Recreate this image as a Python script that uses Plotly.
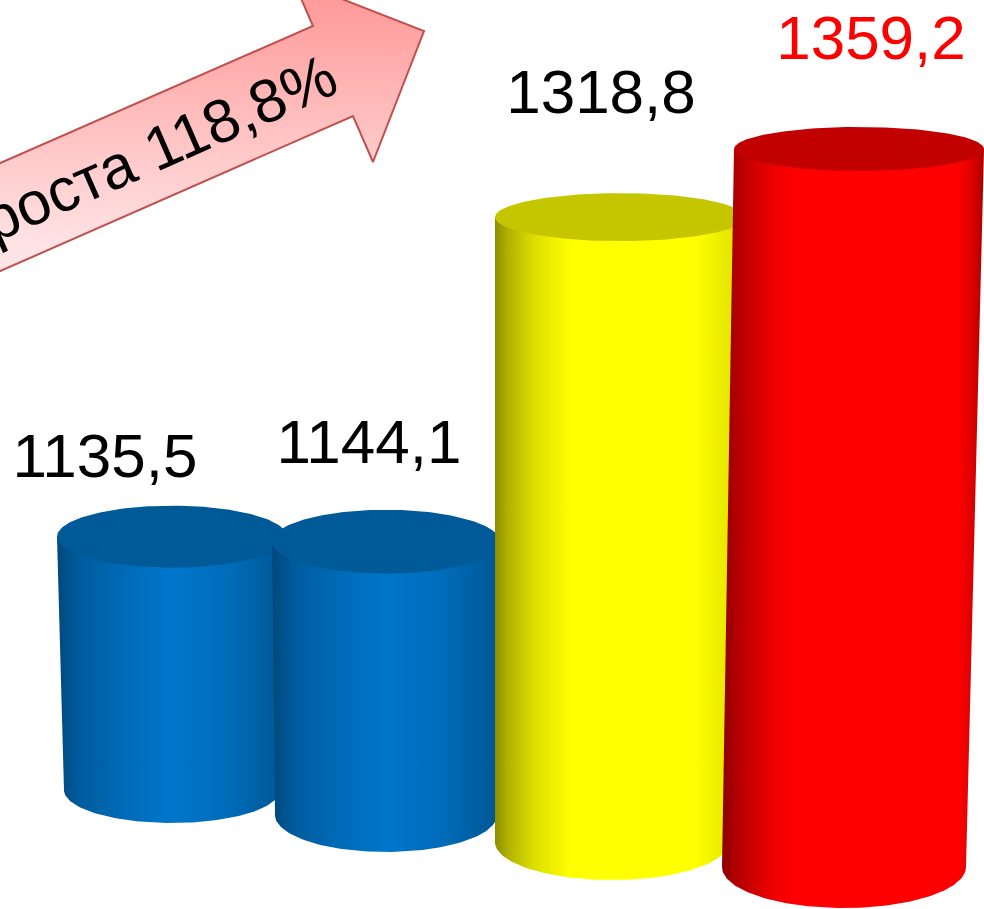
import numpy as np
import plotly.graph_objects as go

# --- chart data ---
values = [1135.5, 1144.1, 1318.8, 1359.2]
label_colors = ["#000000", "#000000", "#000000", "#ff0000"]
growth_label = "Темп роста 118,8%"

# --- picture geometry (camera-like placement of each cylinder, not data) ---
v_floor = 1014.0
height_scale = [2.085, 2.10, 2.05, 2.08]
base_cy = [790, 815, 842, 867]
base_cx = [172, 386, 612, 844]
base_a = [108, 111, 117, 122]
base_b = [33, 37, 38, 41]
top_cx = [172, 386, 620, 859]
top_a = [115, 114, 125, 125]
top_b = [31, 32, 24, 22]
label_x = [105, 369, 601, 871]
label_gap = [44, 62, 96, 83]

BLUE = [[0, "#00487c"], [.1, "#005c9e"], [.3, "#006bb8"], [.5, "#0076cc"], [.75, "#006cba"], [.95, "#005a9a"], [1, "#004f88"]]
YELLOW = [[0, "#8c8c00"], [.05, "#b0b000"], [.15, "#dcdc00"], [.3, "#ffff00"], [.8, "#ffff00"], [1, "#dcdc00"]]
RED = [[0, "#8a0000"], [.05, "#b00000"], [.2, "#f00000"], [.3, "#ff0000"], [.9, "#ff0000"], [.96, "#d80000"], [1, "#a80000"]]
wall_scales = [BLUE, BLUE, YELLOW, RED]
top_colors = ["#005a98", "#005a98", "#c6c600", "#c20000"]

fig = go.Figure()
phi_front = np.linspace(np.pi, 0, 90)
phi_all = np.linspace(0, 2 * np.pi, 181)

for i, v in enumerate(values):
    cy_top = base_cy[i] - height_scale[i] * (v - v_floor)
    # wall: chord across the top cap (the cap covers it), then front arc of the base
    xt = np.array([top_cx[i] - top_a[i], top_cx[i] + top_a[i]])
    yt = np.array([cy_top, cy_top])
    xb = base_cx[i] + base_a[i] * np.cos(phi_front[::-1])
    yb = base_cy[i] + base_b[i] * np.sin(phi_front[::-1])
    fig.add_trace(go.Scatter(
        x=np.r_[xt, xb, xt[0]], y=np.r_[yt, yb, yt[0]], mode="lines", fill="toself",
        line=dict(width=0), fillgradient=dict(type="horizontal", colorscale=wall_scales[i]),
        hoverinfo="skip", showlegend=False))
    # top cap
    fig.add_trace(go.Scatter(
        x=top_cx[i] + top_a[i] * np.cos(phi_all), y=cy_top + top_b[i] * np.sin(phi_all),
        mode="lines", fill="toself", fillcolor=top_colors[i],
        line=dict(width=0), hoverinfo="skip", showlegend=False))

# value labels
tops = [base_cy[i] - height_scale[i] * (v - v_floor) - top_b[i] for i, v in enumerate(values)]
fig.add_trace(go.Scatter(
    x=label_x, y=[t - g for t, g in zip(tops, label_gap)], mode="text",
    text=[f"{v:.1f}".replace(".", ",") for v in values], textposition="middle center",
    textfont=dict(family="Liberation Sans", size=62, color=label_colors),
    hoverinfo="skip", showlegend=False))

# growth arrow
arrow_x = [-300, 313, 293, 424, 373, 353, -300, -300]
arrow_y = [294.5, 26, -20, 31, 162, 116, 403, 294.5]
fig.add_trace(go.Scatter(
    x=arrow_x, y=arrow_y, mode="lines", fill="toself",
    line=dict(color="#c0504d", width=2),
    fillgradient=dict(type="vertical", start=0, stop=250,
                      colorscale=[[0, "#ff9a9a"], [.5, "#ffc0c0"], [1, "#ffe4e6"]]),
    hoverinfo="skip", showlegend=False))
fig.add_annotation(x=86, y=180, xref="x", yref="y", text=growth_label, showarrow=False,
                   textangle=-23.6, xanchor="center", yanchor="middle",
                   font=dict(family="Liberation Sans", size=61, color="#000000"))

fig.update_layout(width=984, height=909, margin=dict(l=0, r=0, t=0, b=0),
                  paper_bgcolor="white", plot_bgcolor="white", showlegend=False)
fig.update_xaxes(range=[0, 984], visible=False)
fig.update_yaxes(range=[909, 0], visible=False)
fig.write_html("out.html", config={"displayModeBar": False},
               post_script="document.body.style.margin='0';document.body.style.overflow='hidden';")
